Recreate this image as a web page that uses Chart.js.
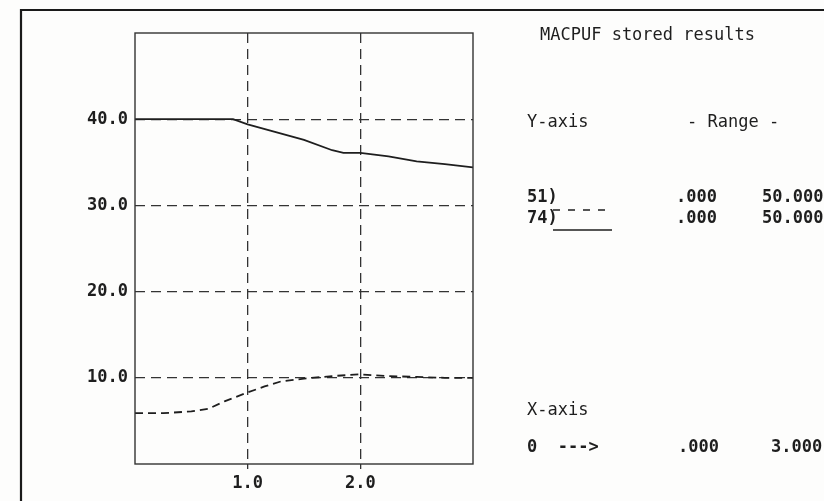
<!DOCTYPE html>
<html>
<head>
<meta charset="utf-8">
<script src="https://cdn.jsdelivr.net/npm/chart.js@4"></script>
<style>
  html, body { margin: 0; padding: 0; background: #fdfdfc; }
  #wrap { width: 824px; height: 501px; position: relative; }
</style>
</head>
<body>
<div id="wrap"><canvas id="grafico"></canvas></div>
<script>
// serie 74 (linea continua) y serie 51 (linea discontinua)
const xSolid = [0, 0.25, 0.5, 0.75, 0.87, 1.0, 1.25, 1.5, 1.75, 1.85, 2.0, 2.25, 2.5, 2.75, 3.0];
const ySolid = [40, 40, 40, 40, 40, 39.4, 38.5, 37.6, 36.4, 36.1, 36.1, 35.7, 35.1, 34.8, 34.4];
const xDash = [0, 0.25, 0.5, 0.65, 0.8, 1.0, 1.15, 1.3, 1.5, 1.75, 2.0, 2.25, 2.5, 2.75, 3.0];
const yDash = [5.9, 5.9, 6.1, 6.4, 7.3, 8.3, 9.0, 9.6, 9.9, 10.2, 10.4, 10.2, 10.1, 10.0, 10.0];
const yTicks = [10, 20, 30, 40];
const xTicks = [1, 2];

const ink = '#1e1e1e';
const gridInk = '#333';
const mono = '"DejaVu Sans Mono", "Liberation Mono", monospace';

const toPoints = (xs, ys) => xs.map((x, i) => ({ x: x, y: ys[i] }));

// marco, borde del grafico y textos del panel derecho
const panel = {
    id: 'panel',
    afterDraw(chart) {
        const ctx = chart.ctx;
        const a = chart.chartArea;
        ctx.save();
        ctx.strokeStyle = '#1a1a1a';
        ctx.lineWidth = 2.2;
        ctx.beginPath();
        ctx.moveTo(21, 501);
        ctx.lineTo(21, 10);
        ctx.lineTo(824, 10);
        ctx.stroke();

        ctx.lineWidth = 1.4;
        ctx.strokeStyle = '#333';
        ctx.strokeRect(a.left, a.top, a.right - a.left, a.bottom - a.top);

        ctx.fillStyle = ink;
        ctx.textBaseline = 'alphabetic';
        const txt = (s, x, y, bold) => {
            ctx.font = (bold ? 'bold ' : '') + '17px ' + mono;
            ctx.fillText(s, x, y);
        };
        txt('MACPUF stored results', 540, 40);
        txt('Y-axis', 527, 127);
        txt('- Range -', 687, 127);
        txt('51)', 527, 202, true);
        txt('.000', 676, 202, true);
        txt('50.000', 762, 202, true);
        txt('74)', 527, 223, true);
        txt('.000', 676, 223, true);
        txt('50.000', 762, 223, true);
        txt('X-axis', 527, 415);
        txt('0  --->', 527, 452, true);
        txt('.000', 678, 452, true);
        txt('3.000', 771, 452, true);

        // muestras de la leyenda
        ctx.lineWidth = 1.6;
        ctx.strokeStyle = ink;
        ctx.setLineDash([7, 8]);
        ctx.beginPath();
        ctx.moveTo(553, 210);
        ctx.lineTo(612, 210);
        ctx.stroke();
        ctx.setLineDash([]);
        ctx.beginPath();
        ctx.moveTo(553, 230);
        ctx.lineTo(612, 230);
        ctx.stroke();
        ctx.restore();
    }
};

new Chart(document.getElementById('grafico'), {
    type: 'line',
    data: {
        datasets: [
            {
                label: '74',
                data: toPoints(xSolid, ySolid),
                borderColor: ink, borderWidth: 1.8,
                pointRadius: 0, tension: 0
            },
            {
                label: '51',
                data: toPoints(xDash, yDash),
                borderColor: ink, borderWidth: 1.8, borderDash: [8, 5],
                pointRadius: 0, tension: 0
            }
        ]
    },
    options: {
        responsive: true,
        maintainAspectRatio: false,
        animation: false,
        layout: { padding: { top: 33, right: 351, left: 0, bottom: 0 } },
        plugins: { legend: { display: false }, tooltip: { enabled: false } },
        scales: {
            x: {
                type: 'linear', min: 0, max: 3,
                afterFit: s => { s.height = 37; },
                ticks: {
                    stepSize: 1, color: ink, padding: 4, maxRotation: 0,
                    font: { family: mono, size: 17, weight: 'bold' },
                    callback: v => xTicks.includes(v) ? v.toFixed(1) : ''
                },
                grid: {
                    color: c => c.tick && xTicks.includes(c.tick.value) ? gridInk : 'transparent',
                    tickColor: c => c.tick && xTicks.includes(c.tick.value) ? gridInk : 'transparent',
                    tickLength: 5, lineWidth: 1.3
                },
                border: { display: false, dash: [10, 6] }
            },
            y: {
                min: 0, max: 50,
                afterFit: s => { s.width = 135; },
                ticks: {
                    stepSize: 10, color: ink, padding: 7,
                    font: { family: mono, size: 17, weight: 'bold' },
                    callback: v => yTicks.includes(v) ? v.toFixed(1) : ''
                },
                grid: {
                    color: c => c.tick && yTicks.includes(c.tick.value) ? gridInk : 'transparent',
                    drawTicks: false, lineWidth: 1.3
                },
                border: { display: false, dash: [10, 6] }
            }
        }
    },
    plugins: [panel]
});
</script>
</body>
</html>
